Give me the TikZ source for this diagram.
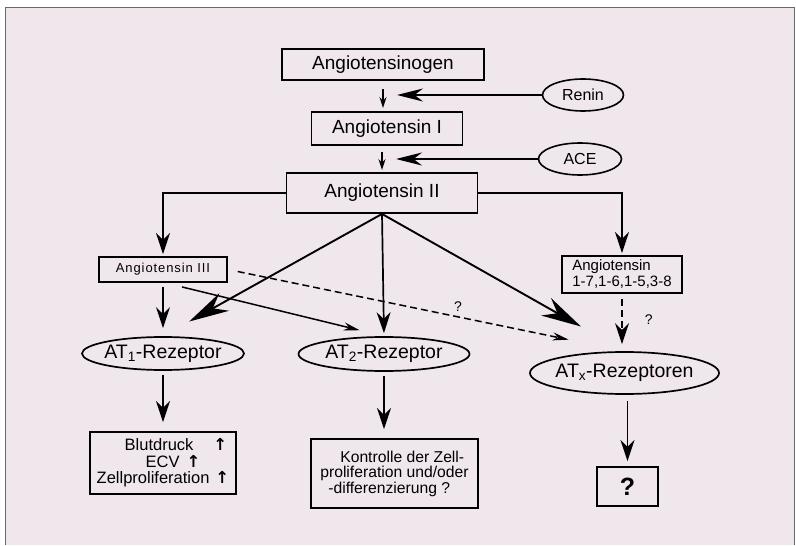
\documentclass[tikz,border=0pt]{standalone}
\usepackage{fontspec}
\setmainfont{Liberation Sans}
\newfontfamily\pfeilfont{DejaVu Sans}
\usetikzlibrary{arrows.meta, shapes, positioning}

\definecolor{papier}{RGB}{240,231,237}
\definecolor{rahmen}{RGB}{105,105,105}
\newcommand{\hoch}{{\pfeilfont\bfseries ↑}}

\begin{document}
\begin{tikzpicture}[x=1pt,y=-1pt,on grid,
    stoff/.style={draw,rectangle,line width=1.9pt,inner sep=0pt,align=center,font=\fontsize{19}{21}\selectfont},
    enzym/.style={draw,ellipse,line width=1.6pt,inner sep=0pt,font=\fontsize{16}{18}\selectfont},
    rez/.style={draw,ellipse,line width=1.7pt,inner xsep=-6pt,inner ysep=0pt,font=\fontsize{19.5}{21}\selectfont},
    wirk/.style={draw,rectangle,line width=1.9pt,inner sep=0pt,align=left},
    pfeil/.style={line width=1.7pt,-{Stealth[length=21pt,width=14pt]}},
    dick/.style={line width=1.9pt,-{Stealth[length=40pt,width=20pt]}},
    duenn/.style={line width=1.5pt,-{Stealth[length=16pt,width=8pt]}},
    klein/.style={line width=1.5pt,-{Stealth[length=11pt,width=7pt]}},
    enzpfeil/.style={line width=1.5pt,-{Stealth[length=26pt,width=13pt]}},
    frage/.style={inner sep=0pt,font=\fontsize{14}{14}\selectfont}]

\fill[white] (0,0) rectangle (796,545);
\fill[papier] (5,7) rectangle (794,545);
\draw[rahmen,line width=0.8pt] (5,545) -- (5,7) -- (794,7) -- (794,545);

\node[stoff,minimum width=202pt,minimum height=31pt] (ang0) at (383,64.5) {Angiotensinogen};
\node[stoff,minimum width=151pt,minimum height=33pt,below right=64pt and 4pt of ang0] (ang1) {Angiotensin I};
\node[stoff,minimum width=191pt,minimum height=40pt,below left=64.5pt and 5pt of ang1] (ang2) {Angiotensin II};
\node[enzym,minimum width=81pt,minimum height=32pt,below right=30.5pt and 200pt of ang0] (renin) {Renin};
\node[enzym,minimum width=83pt,minimum height=32pt,below right=30.5pt and 193pt of ang1] (ace) {ACE};

\node[stoff,font=\fontsize{13}{15}\selectfont\addfontfeature{LetterSpace=7},minimum width=128pt,minimum height=25pt,
      below left=76.5pt and 219pt of ang2] (ang3) {Angiotensin III};
\node[stoff,font=\fontsize{15}{16}\selectfont,align=left,minimum width=120pt,minimum height=37pt,
      below right=81.5pt and 240pt of ang2] (ang17) {Angiotensin\\1-7,1-6,1-5,3-8};

\node[rez,minimum width=162pt,minimum height=33pt,below=84pt of ang3] (at1) {AT\textsubscript{1}-Rezeptor};
\node[rez,minimum width=171pt,minimum height=34pt,below right=161pt and 2pt of ang2] (at2) {AT\textsubscript{2}-Rezeptor};
\node[rez,minimum width=189pt,minimum height=42pt,below right=98.5pt and 2.5pt of ang17] (atx) {AT\textsubscript{x}-Rezeptoren};

\node[wirk,font=\fontsize{16.5}{16.5}\selectfont,minimum width=146pt,minimum height=62pt,below=109.5pt of at1] (wirk1)
  {\hspace*{28pt}Blutdruck\hspace{20pt}\hoch\\\hspace*{49pt}ECV\hspace{7pt}\hoch\\Zellproliferation\hspace{6pt}\hoch};
\node[wirk,font=\fontsize{15.7}{15.5}\selectfont,minimum width=167pt,minimum height=69pt,below right=119.5pt and 10.5pt of at2] (wirk2)
  {\hspace*{20pt}Kontrolle der Zell-\\proliferation und/oder\\\hspace*{8pt}-differenzierung ?};
\node[wirk,font=\fontsize{25}{25}\selectfont\bfseries,minimum width=61pt,minimum height=39pt,below right=113.5pt and 3pt of atx] (wirkx) {?};

% Kaskade
\draw[klein,shorten <=8pt,shorten >=3pt] (ang0.south) -- (ang0.south |- ang1.north);
\draw[klein,shorten <=6pt,shorten >=2pt] (ang2.north |- ang1.south) -- (ang2.north);
\draw[enzpfeil,shorten >=14pt] (renin.west) -- (renin.west -| ang0.south);
\draw[enzpfeil,shorten >=14pt] (ace.west) -- (ace.west -| ang2.north);

\draw[pfeil,shorten >=2pt] (ang2.west) -| (ang3.north);
\draw[pfeil,shorten >=2pt] (ang2.east) -| (ang17.north);

\path[dick] (ang2.south) edge[shorten >=30pt] (at1.north)
            (ang2.south) edge[shorten >=50pt] (atx.north);
\path[pfeil] (ang2.south) edge[shorten >=3pt] (at2.north)
             (ang3.south) edge[shorten <=4pt,shorten >=8pt] (at1.north)
             (at1.south) edge[shorten <=4pt,shorten >=9pt] (at1.south |- wirk1.north)
             (at2.south) edge[shorten <=4pt,shorten >=9pt] (at2.south |- wirk2.north);
\draw[pfeil,shorten <=6pt,shorten >=5pt] (wirkx.north |- atx.south) -- (wirkx.north);

\draw[duenn,shorten >=25pt] ([xshift=19pt,yshift=-4pt]ang3.south) -- (at2.north);
\draw[duenn,dash pattern=on 7pt off 4pt,shorten <=10pt,shorten >=57pt] (ang3.east)
  -- node[frage,pos=0.58,anchor=south,yshift=5pt] {?} (atx.north);
\draw[pfeil,dash pattern=on 7pt off 4pt,shorten <=5pt,shorten >=7pt] (ang17.south)
  -- node[frage,pos=0.45,anchor=west,xshift=22pt] {?} (ang17.south |- atx.north);

\end{tikzpicture}
\end{document}
